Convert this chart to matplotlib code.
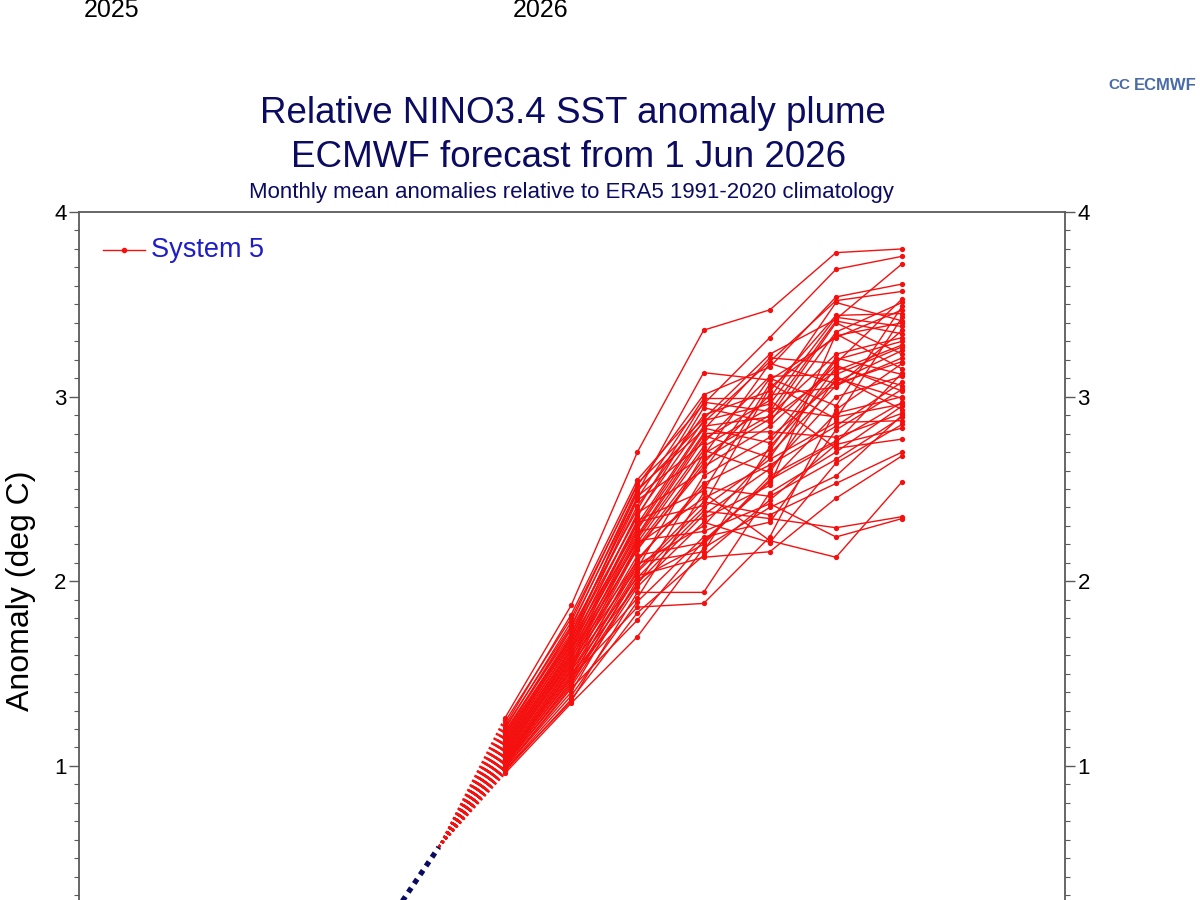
import matplotlib
matplotlib.use('Agg')
import matplotlib.pyplot as plt
from matplotlib.lines import Line2D
from matplotlib.ticker import MultipleLocator, FixedLocator
import numpy as np

plt.rcParams['font.family'] = ['Liberation Sans', 'DejaVu Sans']

# ---------------- data ----------------
# month index: 0 = May 2026 (last analysed month), 1..7 = Jun 2026 .. Dec 2026
obs_months = [-2, -1, 0]
obs_values = [-0.50, 0.03, 0.56]

lead_months = [1, 2, 3, 4, 5, 6, 7]

lead1 = [1.26, 1.24, 1.22, 1.21, 1.20, 1.19, 1.18, 1.17, 1.17, 1.16, 1.15, 1.15, 1.14,
         1.13, 1.13, 1.12, 1.12, 1.11, 1.11, 1.10, 1.10, 1.09, 1.09, 1.08, 1.08, 1.07,
         1.07, 1.06, 1.06, 1.05, 1.05, 1.05, 1.04, 1.04, 1.03, 1.03, 1.03, 1.02, 1.02,
         1.01, 1.01, 1.01, 1.00, 1.00, 0.99, 0.99, 0.99, 0.98, 0.98, 0.97, 0.96]
lead2 = [1.87, 1.80, 1.82, 1.76, 1.78, 1.72, 1.75, 1.74, 1.69, 1.71, 1.70, 1.67, 1.69,
         1.68, 1.65, 1.66, 1.66, 1.63, 1.64, 1.63, 1.60, 1.62, 1.61, 1.58, 1.60, 1.59,
         1.56, 1.58, 1.57, 1.54, 1.55, 1.55, 1.52, 1.53, 1.52, 1.49, 1.51, 1.50, 1.47,
         1.48, 1.48, 1.44, 1.46, 1.45, 1.40, 1.43, 1.42, 1.35, 1.38, 1.36, 1.34]
lead3 = [2.70, 2.52, 2.55, 2.48, 2.53, 2.45, 2.50, 2.39, 2.49, 2.46, 2.35, 2.44, 2.41,
         2.29, 2.37, 2.36, 2.25, 2.33, 2.31, 2.21, 2.32, 2.28, 2.17, 2.27, 2.24, 2.11,
         2.23, 2.22, 2.07, 2.20, 2.19, 2.02, 2.18, 2.14, 1.98, 2.12, 2.10, 1.91, 2.09,
         2.06, 1.86, 2.05, 2.03, 1.99, 2.01, 1.97, 1.79, 1.94, 1.89, 1.83, 1.70]
lead4 = [3.36, 3.01, 2.96, 3.13, 2.88, 2.99, 2.82, 2.97, 2.86, 2.75, 2.94, 2.68, 2.90,
         2.83, 2.60, 2.87, 2.79, 2.49, 2.84, 2.71, 2.41, 2.80, 2.64, 2.34, 2.77, 2.53,
         2.73, 2.27, 2.69, 2.45, 2.66, 2.38, 2.62, 2.21, 2.57, 2.51, 2.16, 2.48, 2.30,
         2.43, 1.88, 2.40, 2.13, 2.36, 2.20, 2.32, 2.22, 1.94, 2.24, 2.14, 2.18]
lead5 = [3.47, 3.16, 3.32, 3.09, 3.23, 2.99, 3.21, 2.92, 3.19, 3.11, 2.86, 3.18, 3.03,
         2.75, 3.10, 2.96, 2.67, 3.07, 2.89, 2.59, 3.05, 2.81, 3.01, 2.52, 2.98, 2.71,
         2.94, 2.42, 2.90, 2.63, 2.88, 2.34, 2.84, 2.55, 2.78, 2.46, 2.73, 2.22, 2.69,
         2.36, 2.24, 2.66, 2.16, 2.61, 2.57, 2.21, 2.54, 2.48, 2.32, 2.44, 2.40]
lead6 = [3.78, 3.54, 3.69, 3.32, 3.42, 3.51, 3.18, 3.41, 3.52, 3.12, 3.35, 3.07, 3.44,
         3.21, 2.95, 3.43, 3.16, 2.88, 3.40, 3.10, 3.33, 2.78, 3.05, 3.34, 2.72, 3.20,
         2.89, 2.24, 3.23, 2.84, 3.14, 2.29, 3.17, 2.75, 3.08, 2.66, 3.11, 2.13, 3.06,
         2.53, 2.93, 2.86, 2.45, 3.00, 2.76, 2.64, 2.91, 2.70, 2.82, 2.74, 2.57]
lead7 = [3.80, 3.61, 3.76, 3.47, 3.72, 3.41, 3.53, 3.34, 3.57, 3.27, 3.51, 3.19, 3.45,
         3.12, 3.49, 3.38, 3.06, 3.43, 3.23, 2.99, 3.40, 2.91, 3.36, 3.15, 2.77, 3.30,
         2.96, 2.34, 3.32, 3.08, 3.28, 2.35, 3.03, 3.13, 3.25, 2.89, 2.93, 2.54, 3.21,
         2.70, 3.18, 2.87, 2.68, 3.11, 2.97, 2.85, 3.00, 2.95, 3.04, 2.83, 2.90]

y_major_ticks = [1, 2, 3, 4]

title_line1 = "Relative NINO3.4 SST anomaly plume"
title_line2 = "ECMWF forecast from 1 Jun 2026"
subtitle = "Monthly mean anomalies relative to ERA5 1991-2020 climatology"
ylabel = "Anomaly (deg C)"
legend_label = "System 5"
year_labels = ["2025", "2026"]

# ---------------- figure ----------------
W, H = 1200, 900
fig = plt.figure(figsize=(12, 9), dpi=100)
fig.patch.set_facecolor('white')

def fx(px):
    return px / W

def fy(py):
    return 1 - py / H

ax = fig.add_axes([fx(79), 0, fx(1065) - fx(79), fy(212)])
ax.set_xlim(-5.435, 9.459)
ax.set_ylim(0.274, 4.0)

RED = '#f51010'
NAVY = '#0b0b61'

members = np.array([lead1, lead2, lead3, lead4, lead5, lead6, lead7]).T
last_obs = obs_values[-1]
for row in members:
    ax.plot([obs_months[-1], lead_months[0]], [last_obs, row[0]], color=RED, lw=1.4,
            linestyle=(0, (1.2, 1.5)), zorder=2)
for row in members:
    ax.plot(lead_months, row, color=RED, lw=1.0, marker='o', ms=3.8,
            markeredgewidth=0, zorder=3)

ax.plot(obs_months, obs_values, color=NAVY, lw=3.8, linestyle=(0, (1, 1)),
        dash_capstyle='butt', zorder=4)

# axes styling
for side in ['left', 'right', 'top']:
    ax.spines[side].set_color('#5a5a5a')
    ax.spines[side].set_linewidth(1.3)
ax.spines['bottom'].set_visible(False)

ax.yaxis.set_major_locator(FixedLocator(y_major_ticks))
ax.yaxis.set_minor_locator(MultipleLocator(0.1))
ax.tick_params(axis='y', which='both', left=True, right=True,
               labelleft=True, labelright=True, direction='out')
ax.tick_params(axis='y', which='major', length=7, width=1.0, color='#5a5a5a',
               labelsize=16, pad=2, labelcolor='black')
ax.tick_params(axis='y', which='minor', length=3.5, width=0.8, color='#5a5a5a')
ax.tick_params(axis='x', which='both', bottom=False, top=False,
               labelbottom=False, labeltop=False)

# titles
fig.text(fx(573), fy(123), title_line1, ha='center', va='baseline',
         fontsize=26.5, color=NAVY)
fig.text(fx(569), fy(167), title_line2, ha='center', va='baseline',
         fontsize=26.5, color=NAVY)
fig.text(fx(571), fy(198), subtitle, ha='center', va='baseline',
         fontsize=16, color=NAVY)

# y label
fig.text(fx(21), fy(591), ylabel, rotation=90, ha='center', va='center',
         fontsize=23, color='black')

# legend
fig.add_artist(Line2D([fx(103), fx(145)], [fy(250), fy(250)], transform=fig.transFigure,
                      color=RED, lw=1.0))
fig.add_artist(Line2D([fx(124)], [fy(250)], transform=fig.transFigure,
                      color=RED, marker='o', ms=4, markeredgewidth=0, linestyle='none'))
fig.text(fx(151), fy(250), legend_label, ha='left', va='center', fontsize=19.5,
         color='#1e1ec8')

# year labels from the panel above (cut off at the top in the reference)
fig.text(fx(112), fy(17), year_labels[0], ha='center', va='baseline', fontsize=18,
         color='black')
fig.text(fx(541), fy(17), year_labels[1], ha='center', va='baseline', fontsize=18,
         color='black')

# ECMWF logo
fig.text(fx(1119), fy(85), "CC", ha='center', va='center', fontsize=11, weight='bold',
         color='#4a6aa8')
fig.text(fx(1197), fy(85), "ECMWF", ha='right', va='center', fontsize=12, weight='bold',
         color='#4a6aa8')

fig.savefig('out.png', dpi=100, facecolor='white')
